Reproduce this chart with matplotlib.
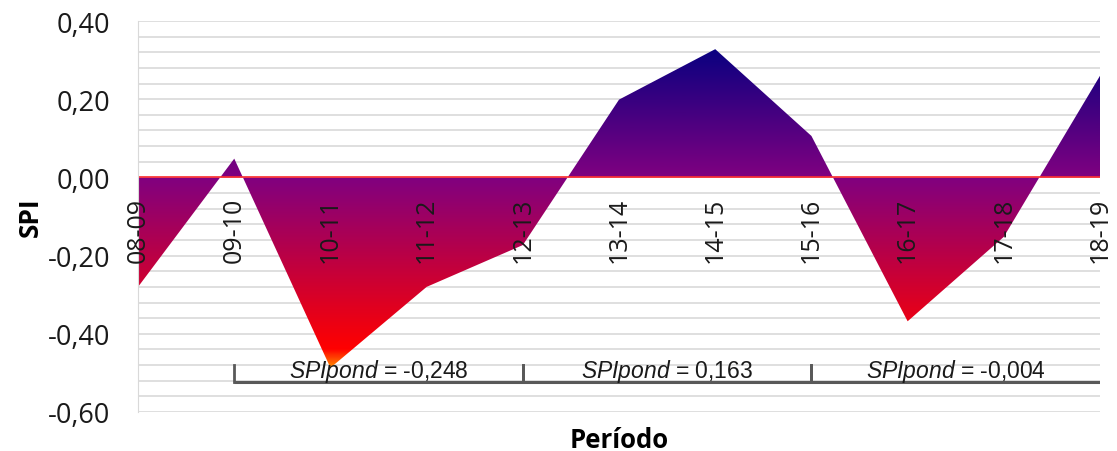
import numpy as np
import matplotlib.pyplot as plt
from matplotlib.colors import LinearSegmentedColormap
from matplotlib.patches import Polygon

plt.rcParams['mathtext.fontset'] = 'custom'
plt.rcParams['mathtext.it'] = 'Liberation Sans:italic'
plt.rcParams['mathtext.rm'] = 'Liberation Sans'

periodos = ['08-09', '09-10', '10-11', '11-12', '12-13', '13-14',
            '14-15', '15-16', '16-17', '17-18', '18-19']
spi = [-0.28, 0.048, -0.487, -0.28, -0.173, 0.199, 0.328, 0.106, -0.368, -0.152, 0.26]

# groups: (start index, end index, text)
grupos = [(1, 4, '-0,248'), (4, 7, '0,163'), (7, 10, '-0,004')]
yticks = [-0.6, -0.4, -0.2, 0.0, 0.2, 0.4]

fig = plt.figure(figsize=(11.17, 4.52), dpi=100)
ax = fig.add_axes([0.1236, 0.0863, 0.8612, 0.8650])

x = np.arange(len(periodos))
ax.set_xlim(0, len(periodos) - 1)
ax.set_ylim(-0.6, 0.4)

# grid every 0.04
for g in np.arange(-0.6, 0.401, 0.04):
    ax.axhline(g, color='#d9d9d9', lw=1.2, zorder=0)

# gradient fill clipped to the area polygon
ymax, ymin = max(spi), min(spi)
cmap = LinearSegmentedColormap.from_list('spi', [
    (0.0, '#ff8c00'),
    ((-0.44 - ymin) / (ymax - ymin), '#ff0000'),
    ((0 - ymin) / (ymax - ymin), '#800080'),
    (1.0, '#0a0080')])
grad = np.linspace(0, 1, 256).reshape(-1, 1)
im = ax.imshow(grad, cmap=cmap, origin='lower', aspect='auto',
               extent=[0, len(periodos) - 1, ymin, ymax], zorder=1)
pts = [(0, 0)] + list(zip(x, spi)) + [(x[-1], 0)]
poly = Polygon(pts, closed=True, facecolor='none', edgecolor='none')
ax.add_patch(poly)
im.set_clip_path(poly)

ax.axhline(0, color='#ff3030', lw=1.2, zorder=2)

# category labels inside the plot
for i, p in enumerate(periodos):
    ax.text(i, -0.05, p, rotation=90, ha='center', va='top', fontsize=18,
            family='Open Sans', color='#1a1a1a', zorder=3)

# SPIpond brackets
yb = -0.523
xend = grupos[-1][1] + 0.03
ax.plot([grupos[0][0], xend], [yb, yb], color='#595959', lw=2.2,
        solid_capstyle='butt', zorder=3)
for a, b, txt in grupos:
    for xx in (a, xend if b == grupos[-1][1] else b):
        ax.plot([xx, xx], [yb, yb + 0.043], color='#595959', lw=2, zorder=3)
    ax.text((a + b) / 2, -0.51, r'$\it{SPIpond}$' + ' = ' + txt,
            ha='center', va='baseline', fontsize=16.5, family='Liberation Sans',
            color='#1a1a1a', zorder=4)

ax.set_xticks([])
ax.set_yticks(yticks)
ax.set_yticklabels(['{:.2f}'.format(v).replace('.', ',') for v in yticks],
                   fontsize=19.5, family='Open Sans', color='#1a1a1a')
ax.tick_params(axis='y', length=0, pad=20)
for s in ['top', 'right', 'bottom']:
    ax.spines[s].set_visible(False)
ax.spines['left'].set_color('#d9d9d9')

ax.set_ylabel('SPI', fontsize=19, fontweight='bold', family='Open Sans', labelpad=3)
ax.set_xlabel('Período', fontsize=18.5, fontweight='bold', family='Open Sans', labelpad=10)

fig.savefig('out.png', dpi=100)
